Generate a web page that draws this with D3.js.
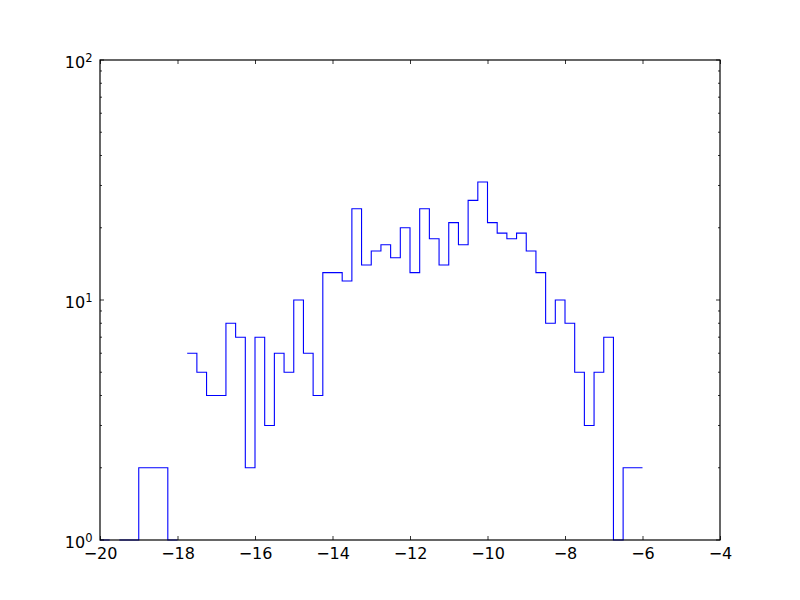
<!DOCTYPE html>
<html><head><meta charset="utf-8">
<script src="https://cdn.jsdelivr.net/npm/d3@7"></script>
<style>body{margin:0;background:#fff}svg{display:block}</style>
</head><body>
<svg id="c" width="800" height="600"></svg>
<script>
// Histogram data (bins of width 0.25 starting at -20)
const binStart = -20;
const binWidth = 0.25;
const counts = [
  1, 0, 1, 1, 2, 2, 2, 1, 0,
  6, 5, 4, 4, 8, 7, 2, 7, 3, 6, 5, 10, 6, 4,
  13, 13, 12, 24, 14, 16, 17, 15, 20, 13, 24, 18, 14, 21, 17, 26, 31, 21, 19, 18, 19, 16, 13,
  8, 10, 8, 5, 3, 5, 7,
  1, 2, 2
];
const xTicks = [-20, -18, -16, -14, -12, -10, -8, -6, -4];
const yTicks = [1, 10, 100];
const yTickExp = ["0", "1", "2"];

const W = 800, H = 600;
const m = {l: 100, r: 80, t: 60, b: 60};
const svg = d3.select("#c");
const x = d3.scaleLinear().domain([-20, -4]).range([m.l, W - m.r]);
const y = d3.scaleLog().domain([1, 100]).range([H - m.b, m.t]);

svg.append("defs").append("clipPath").attr("id", "clip")
  .append("rect").attr("x", m.l).attr("y", m.t - 1)
  .attr("width", W - m.l - m.r).attr("height", H - m.t - m.b + 2);

// step vertices like matplotlib step histogram
const edges = counts.map((c, i) => binStart + i * binWidth).concat([binStart + counts.length * binWidth]);
const verts = [{x: edges[0], y: 0}];
counts.forEach((c, i) => {
  verts.push({x: edges[i], y: c});
  verts.push({x: edges[i + 1], y: c});
});
verts.push({x: edges[edges.length - 1], y: 0});

const line = d3.line().defined(d => d.y > 0).x(d => x(d.x)).y(d => y(d.y));
svg.append("path").attr("clip-path", "url(#clip)")
  .attr("d", line(verts)).attr("fill", "none")
  .attr("stroke", "#0000ff").attr("stroke-width", 1.1).attr("stroke-linejoin", "miter");

// frame
svg.append("rect").attr("x", m.l).attr("y", m.t)
  .attr("width", W - m.l - m.r).attr("height", H - m.t - m.b)
  .attr("fill", "none").attr("stroke", "#000").attr("stroke-width", 1.2);

const font = "DejaVu Sans";
// x axis ticks (inward, bottom and top)
const xAxisB = d3.axisBottom(x).tickValues(xTicks).tickSizeInner(-4).tickSizeOuter(0)
  .tickFormat(d => d3.format("d")(d).replace("-", "\u2212"));
const gxb = svg.append("g").attr("transform", `translate(0,${H - m.b})`).call(xAxisB);
const xAxisT = d3.axisTop(x).tickValues(xTicks).tickSizeInner(-4).tickSizeOuter(0).tickFormat("");
const gxt = svg.append("g").attr("transform", `translate(0,${m.t})`).call(xAxisT);
[gxb, gxt].forEach(g => {
  g.select(".domain").remove();
  g.selectAll("line").attr("stroke", "#000").attr("stroke-width", 0.8);
});
gxb.selectAll("text").attr("font-family", font).attr("font-size", 16).attr("fill", "#000")
  .attr("dy", "0.71em").attr("y", 8);

// y axis: major and minor ticks
const minor = [];
[1, 10].forEach(b => { for (let k = 2; k <= 9; k++) minor.push(b * k); });
const gy = svg.append("g");
yTicks.forEach(v => {
  gy.append("line").attr("x1", m.l).attr("x2", m.l + 4).attr("y1", y(v)).attr("y2", y(v));
  gy.append("line").attr("x1", W - m.r).attr("x2", W - m.r - 4).attr("y1", y(v)).attr("y2", y(v));
});
minor.forEach(v => {
  gy.append("line").attr("x1", m.l).attr("x2", m.l + 2).attr("y1", y(v)).attr("y2", y(v));
  gy.append("line").attr("x1", W - m.r).attr("x2", W - m.r - 2).attr("y1", y(v)).attr("y2", y(v));
});
gy.selectAll("line").attr("stroke", "#000").attr("stroke-width", 0.8);

yTicks.forEach((v, i) => {
  const t = svg.append("text").attr("x", m.l - 7.5).attr("y", y(v) + 7.7).attr("text-anchor", "end")
    .attr("font-family", font).attr("font-size", 16).attr("fill", "#000");
  t.append("tspan").text("10");
  t.append("tspan").attr("dy", -5.5).attr("font-size", 11.5).text(yTickExp[i]);
});
</script>
</body></html>
